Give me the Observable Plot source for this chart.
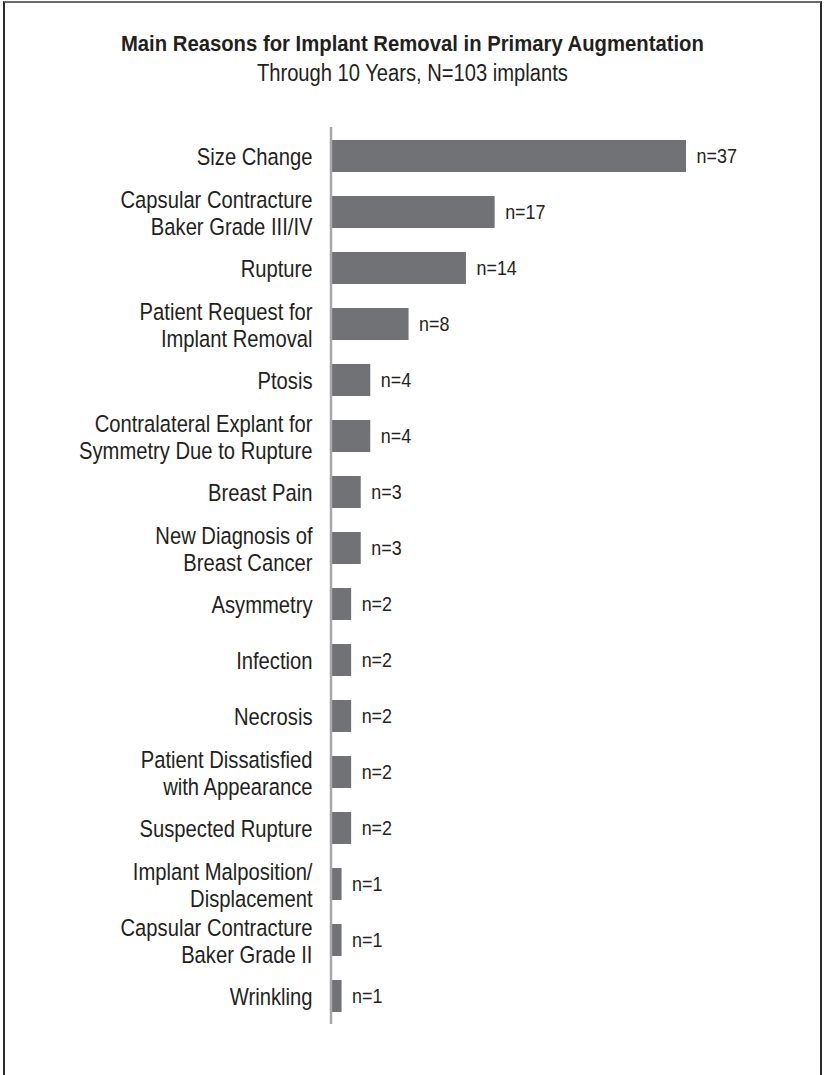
<!DOCTYPE html>
<html>
<head>
<meta charset="utf-8">
<script src="https://cdn.jsdelivr.net/npm/d3@7"></script>
<script src="https://cdn.jsdelivr.net/npm/@observablehq/plot@0.6"></script>
<style>
  html, body { margin: 0; padding: 0; background: #fff; overflow: hidden; }
  body { width: 825px; height: 1075px; position: relative; font-family: "Liberation Sans", Arial, sans-serif; color: #231f20; }
  #frame { position: absolute; left: 3px; top: 1px; width: 815px; height: 1200px;
           border-left: 2px solid #2a2a2a; border-right: 2px solid #2a2a2a; border-top: 2px solid #6a6a6a; }
  .head { position: absolute; left: 0; width: 825px; text-align: center; line-height: 28px; }
  .head span { display: inline-block; white-space: nowrap; transform-origin: 50% 50%; }
  #title { top: 30px; font-size: 22.5px; font-weight: bold; }
  #subtitle { top: 59px; font-size: 23px; }
  #chart { position: absolute; left: 0; top: 117px; }
</style>
</head>
<body>
<div id="frame"></div>
<div id="title" class="head"><span>Main Reasons for Implant Removal in Primary Augmentation</span></div>
<div id="subtitle" class="head"><span>Through 10 Years, N=103 implants</span></div>
<div id="chart"></div>
<script>
const categories = [
  "Size Change",
  "Capsular Contracture\nBaker Grade III/IV",
  "Rupture",
  "Patient Request for\nImplant Removal",
  "Ptosis",
  "Contralateral Explant for\nSymmetry Due to Rupture",
  "Breast Pain",
  "New Diagnosis of\nBreast Cancer",
  "Asymmetry",
  "Infection",
  "Necrosis",
  "Patient Dissatisfied\nwith Appearance",
  "Suspected Rupture",
  "Implant Malposition/\nDisplacement",
  "Capsular Contracture\nBaker Grade II",
  "Wrinkling"
];
const counts = [37, 17, 14, 8, 4, 4, 3, 3, 2, 2, 2, 2, 2, 1, 1, 1];

const data = categories.map((c, i) => ({category: c, n: counts[i]}));

const chart = Plot.plot({
  width: 825,
  height: 917,
  marginTop: 10,
  marginBottom: 10,
  marginLeft: 332,
  marginRight: 139,
  style: {fontFamily: '"Liberation Sans", Arial, sans-serif', color: "#231f20", background: "transparent"},
  x: {domain: [0, 37], axis: null},
  y: {domain: categories, axis: null, paddingInner: 0.43, paddingOuter: 0.215},
  marks: [
    Plot.barX(data, {x: "n", y: "category", fill: "#717275"}),
    Plot.ruleX([0], {stroke: "#a7a7a9", strokeWidth: 2.5, dx: -1.5}),
    Plot.text(data, {x: 0, y: "category", text: "category", textAnchor: "end", dx: -20, fontSize: 23.5, lineHeight: 1.15, fill: "#231f20"}),
    Plot.text(data, {x: "n", y: "category", text: d => "n=" + d.n, textAnchor: "start", dx: 10, fontSize: 19.5, fill: "#231f20"})
  ]
});
document.getElementById("chart").appendChild(chart);

// condense the text horizontally to mimic the condensed typeface
const textGroups = chart.querySelectorAll('g[aria-label="text"]');
const squeeze = [0.86, 0.92];
textGroups.forEach((g, k) => {
  g.querySelectorAll("text").forEach(t => {
    const tr = t.getAttribute("transform") || "";
    t.setAttribute("transform", tr + ` scale(${squeeze[k]},1)`);
  });
});
// headings: condense to the reference widths
[["#title span", 583], ["#subtitle span", 311]].forEach(([sel, target]) => {
  const el = document.querySelector(sel);
  const w = el.getBoundingClientRect().width;
  el.style.transform = `scaleX(${target / w})`;
});
</script>
</body>
</html>
